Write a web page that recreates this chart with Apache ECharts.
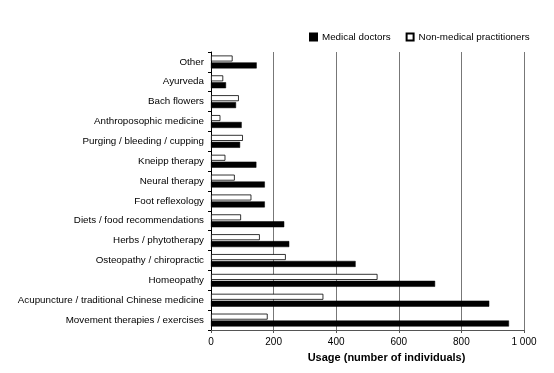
<!DOCTYPE html>
<html><head><meta charset="utf-8">
<script src="https://cdn.jsdelivr.net/npm/echarts@6/dist/echarts.min.js"></script>
<style>html,body{margin:0;padding:0;background:#fff}#c{width:554px;height:373px}</style>
</head><body><div id="c"></div>
<script>
// categories from bottom to top
const categories = ["Movement therapies / exercises","Acupuncture / traditional Chinese medicine","Homeopathy","Osteopathy / chiropractic","Herbs / phytotherapy","Diets / food recommendations","Foot reflexology","Neural therapy","Kneipp therapy","Purging / bleeding / cupping","Anthroposophic medicine","Bach flowers","Ayurveda","Other"];
const medicalDoctors = [952, 889, 716, 462, 250, 234, 172, 172, 145, 93, 98, 80, 48, 146];
const nonMedical = [181, 359, 532, 239, 156, 96, 129, 76, 46, 102, 30, 89, 39, 69];
const xTicks = [0, 200, 400, 600, 800, 1000];

const chart = echarts.init(document.getElementById('c'), null, {renderer:'canvas'});
const font = 'Liberation Sans, Arial, sans-serif';
chart.setOption({
  animation:false,
  backgroundColor:'#fff',
  textStyle:{fontFamily:font},
  legend:{
    top:27, left:304, itemWidth:7, itemHeight:7, itemGap:15,
    textStyle:{fontSize:9.8, color:'#000', fontFamily:font},
    data:[{name:'Medical doctors', icon:'rect'},{name:'Non-medical practitioners', icon:'rect'}]
  },
  grid:{left:211, right:30, top:52, bottom:43, containLabel:false},
  xAxis:{
    type:'value', min:xTicks[0], max:xTicks[xTicks.length-1], interval:200,
    name:'Usage (number of individuals)', nameLocation:'middle', nameGap:22,
    nameTextStyle:{fontSize:11, fontWeight:'bold', color:'#000', fontFamily:font, padding:[0,0,0,38]},
    axisLine:{show:true, lineStyle:{color:'#555', width:1}},
    axisTick:{show:true, length:3, lineStyle:{color:'#555'}},
    axisLabel:{fontSize:10, color:'#000', margin:7, formatter:v=> v>=1000 ? String(v).replace(/(\d)(\d{3})$/,'$1 $2') : String(v)},
    splitLine:{show:true, lineStyle:{color:'#777', width:1}}
  },
  yAxis:{
    type:'category', data:categories,
    axisLine:{show:true, lineStyle:{color:'#000', width:1}},
    axisTick:{show:true, length:3, inside:false, lineStyle:{color:'#000'}},
    axisLabel:{fontSize:9.8, color:'#000', margin:7},
    splitLine:{show:false}
  },
  series:[
    {name:'Non-medical practitioners', type:'bar', data:nonMedical, barWidth:6, barGap:'15%',
     itemStyle:{color:'#fff', borderColor:'#000', borderWidth:0.8}},
    {name:'Medical doctors', type:'bar', data:medicalDoctors, barWidth:6,
     itemStyle:{color:'#000', borderColor:'#000', borderWidth:0.5}}
  ]
});
</script></body></html>
